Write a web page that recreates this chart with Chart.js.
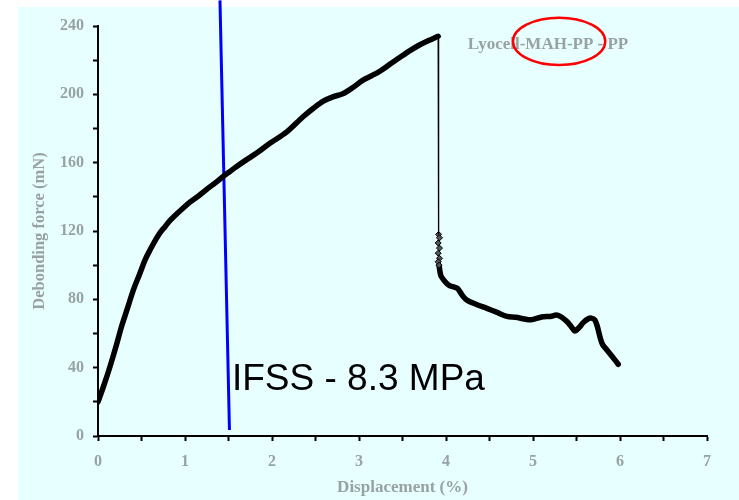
<!DOCTYPE html>
<html>
<head>
<meta charset="utf-8">
<script src="https://cdn.jsdelivr.net/npm/chart.js@4/dist/chart.umd.min.js"></script>
<style>
  html, body { margin: 0; padding: 0; background: #ffffff; }
  #wrap { width: 739px; height: 500px; position: relative; }
</style>
</head>
<body>
<div id="wrap"><canvas id="c"></canvas></div>
<script>
// ---- Data ----
const risingX = [0, 0.07, 0.14, 0.21, 0.27, 0.34, 0.41, 0.48, 0.54, 0.61, 0.67, 0.72, 0.77, 0.82, 0.87, 0.97, 1.06, 1.18, 1.29, 1.37, 1.44, 1.52, 1.59, 1.70, 1.82, 1.98, 2.17, 2.36, 2.48, 2.59, 2.70, 2.82, 2.93, 3.05, 3.15, 3.24, 3.38, 3.51, 3.60, 3.70, 3.80, 3.91];
const risingY = [20, 30, 41, 53, 64, 75, 86, 95, 103, 110, 115.5, 119.5, 122.5, 125.7, 128.3, 133, 137, 141.5, 146, 149, 152, 155, 157.6, 161.5, 165.5, 171.5, 178, 187, 192, 196, 198.5, 200.5, 204, 208.5, 211, 213.5, 218.5, 223, 226, 229, 231.5, 234];

const dropX = [3.91, 3.915];
const dropY = [234, 118];

const clusterX = [3.915, 3.925, 3.91, 3.925, 3.91, 3.925, 3.91, 3.92];
const clusterY = [118, 116, 113, 110, 107, 104, 102, 100];

const tailX = [3.92, 3.94, 3.99, 4.04, 4.08, 4.13, 4.16, 4.20, 4.24, 4.35, 4.47, 4.58, 4.70, 4.80, 4.90, 4.97, 5.05, 5.12, 5.20, 5.27, 5.33, 5.39, 5.44, 5.48, 5.53, 5.58, 5.63, 5.67, 5.71, 5.74, 5.77, 5.80, 5.85, 5.91, 5.98];
const tailY = [100, 94, 90.3, 88, 87.4, 86.5, 84.5, 81.5, 79.6, 77, 74.7, 72.5, 70, 69.5, 68.5, 68, 69, 69.8, 70, 70.8, 69.5, 67, 64, 61.5, 63.5, 66.5, 68.5, 69, 68, 64, 58, 53.5, 50.3, 46.5, 42];

const ifssX = [1.402, 1.511];
const ifssY = [255, 3.5];

const xTickLabels = ['0', '1', '2', '3', '4', '5', '6', '7'];
const yTickLabels = ['0', '40', '80', '120', '160', '200', '240'];

const xTitle = 'Displacement (%)';
const yTitle = 'Debonding force (mN)';
const seriesLabel = 'Lyocell-MAH-PP - PP';
const ifssLabel = 'IFSS - 8.3 MPa';

// annotation anchors in data units
const seriesLabelPos = { x: 4.25, y: 229 };
const ifssLabelPos = { x: 1.54, y: 27 };
const ellipsePos = { x: 5.30, y: 231, rx: 0.53, ry: 13.8 };

const toPts = (xs, ys) => xs.map((x, i) => ({ x: x, y: ys[i] }));

const GREY = '#98A2A2';
const SERIF = "'Liberation Serif', 'Times New Roman', serif";

const bgPlugin = {
  id: 'bg',
  beforeDraw(chart) {
    const ctx = chart.ctx;
    ctx.save();
    ctx.fillStyle = '#E8FFFF';
    ctx.fillRect(18, 7, chart.width - 18, chart.height - 7);
    ctx.restore();
  }
};

const annotPlugin = {
  id: 'annot',
  afterDatasetsDraw(chart) {
    const ctx = chart.ctx;
    const xs = chart.scales.x, ys = chart.scales.y;
    ctx.save();
    // IFSS text
    ctx.fillStyle = '#000000';
    ctx.font = "37px 'Liberation Sans', Arial, sans-serif";
    ctx.textAlign = 'left';
    ctx.textBaseline = 'alphabetic';
    ctx.fillText(ifssLabel, xs.getPixelForValue(ifssLabelPos.x), ys.getPixelForValue(ifssLabelPos.y));
    // series label
    ctx.fillStyle = GREY;
    ctx.font = "bold 17px " + SERIF;
    ctx.textBaseline = 'middle';
    ctx.fillText(seriesLabel, xs.getPixelForValue(seriesLabelPos.x), ys.getPixelForValue(seriesLabelPos.y));
    // red ellipse
    const cx = xs.getPixelForValue(ellipsePos.x);
    const cy = ys.getPixelForValue(ellipsePos.y);
    const rx = Math.abs(xs.getPixelForValue(ellipsePos.x + ellipsePos.rx) - cx);
    const ry = Math.abs(ys.getPixelForValue(ellipsePos.y + ellipsePos.ry) - cy);
    ctx.beginPath();
    ctx.ellipse(cx, cy, rx, ry, 0, 0, Math.PI * 2);
    ctx.strokeStyle = '#FF0000';
    ctx.lineWidth = 2.5;
    ctx.stroke();
    ctx.restore();
  }
};

new Chart(document.getElementById('c'), {
  type: 'scatter',
  data: {
    datasets: [
      { data: toPts(risingX, risingY), showLine: true, borderColor: '#000', borderWidth: 5.5, pointRadius: 0, borderCapStyle: 'round', borderJoinStyle: 'round', cubicInterpolationMode: 'monotone' },
      { data: toPts(dropX, dropY), showLine: true, borderColor: '#000', borderWidth: 1.3, pointRadius: 0 },
      { data: toPts(clusterX, clusterY), showLine: true, borderColor: '#000', borderWidth: 1.3, pointRadius: 3, pointStyle: 'rectRot', pointBackgroundColor: '#555', pointBorderColor: '#000', pointBorderWidth: 1 },
      { data: toPts(tailX, tailY), showLine: true, borderColor: '#000', borderWidth: 5.5, pointRadius: 0, borderCapStyle: 'round', borderJoinStyle: 'round', tension: 0.3 },
      { data: toPts(ifssX, ifssY), showLine: true, borderColor: '#0000FF', borderWidth: 3, pointRadius: 0, clip: false }
    ]
  },
  options: {
    responsive: true,
    maintainAspectRatio: false,
    animation: false,
    events: [],
    layout: { padding: { left: 0, right: 32, top: 26, bottom: 0 } },
    plugins: { legend: { display: false }, tooltip: { enabled: false } },
    scales: {
      x: {
        type: 'linear', min: 0, max: 7,
        afterFit(s) { s.height = 64; },
        border: { display: true, color: '#000', width: 2 },
        grid: { display: true, drawOnChartArea: false, drawTicks: true, tickLength: 5, tickColor: '#000', tickWidth: 2 },
        ticks: {
          stepSize: 0.5, padding: 11, color: GREY, maxRotation: 0, autoSkip: false,
          font: { family: SERIF, size: 16, weight: 'bold' },
          callback: (v) => Number.isInteger(v) ? xTickLabels[v] : ''
        },
        title: { display: true, text: xTitle, color: GREY, padding: { top: 0, bottom: 2 }, font: { family: SERIF, size: 17, weight: 'bold' } }
      },
      y: {
        type: 'linear', min: 0, max: 240,
        afterFit(s) { s.width = 98; },
        border: { display: true, color: '#000', width: 2 },
        grid: { display: true, drawOnChartArea: false, drawTicks: true, tickLength: 5, tickColor: '#000', tickWidth: 2 },
        ticks: {
          stepSize: 20, padding: 9, color: GREY, autoSkip: false,
          font: { family: SERIF, size: 16, weight: 'bold' },
          callback: (v) => (v % 40 === 0) ? yTickLabels[v / 40] : ''
        },
        title: { display: true, text: yTitle, color: GREY, padding: { top: 30, bottom: 0 }, font: { family: SERIF, size: 16.5, weight: 'bold' } }
      }
    }
  },
  plugins: [bgPlugin, annotPlugin]
});
</script>
</body>
</html>
